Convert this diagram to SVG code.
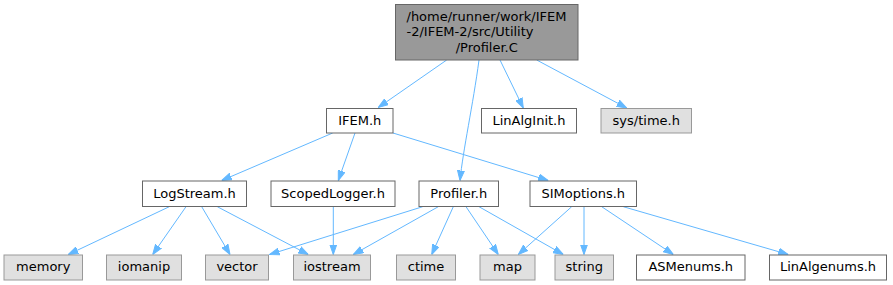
<svg xmlns="http://www.w3.org/2000/svg" width="893" height="285" viewBox="0 0 893 285">
<style>
  .w rect { fill: #ffffff; stroke: #666666; stroke-width: 1; }
  .g rect { fill: #e0e0e0; stroke: #999999; stroke-width: 1; }
  .r rect { fill: #999999; stroke: #666666; stroke-width: 1; }
  text { font-family: "DejaVu Sans", "Liberation Sans", sans-serif; font-size: 13px; fill: #000000; }
  .c { text-anchor: middle; }
  #edges path { fill: none; stroke: #63b8ff; stroke-width: 1; marker-end: url(#arr); }
</style>
<defs>
  <marker id="arr" markerUnits="userSpaceOnUse" markerWidth="10" markerHeight="8" refX="10" refY="4" orient="auto">
    <path d="M0,0.5 L10,4 L0,7.5 z" fill="#63b8ff" stroke="#63b8ff" stroke-width="1"/>
  </marker>
</defs>
<rect width="893" height="285" fill="#ffffff"/>
<g id="edges">
  <path d="M446.7,60 L378.3,107.5"/>
  <path d="M479,60 C473,105 463,150 460,180.5"/>
  <path d="M500,60 L523.3,108"/>
  <path d="M536.7,60 L626.7,108"/>
  <path d="M332.7,133 L221.7,180.5"/>
  <path d="M355,133 L338.3,180.5"/>
  <path d="M393,133 L548.3,180.5"/>
  <path d="M169.3,206.7 L68.3,254.5"/>
  <path d="M186,206.7 L152.7,254.5"/>
  <path d="M201.7,206.7 L230,254.5"/>
  <path d="M217.3,206.7 L308.3,254.5"/>
  <path d="M333.3,206.7 L333.3,254.5"/>
  <path d="M422.7,206.7 L269.5,254.5"/>
  <path d="M438.3,206.7 L353.3,254.5"/>
  <path d="M453.3,206.7 L431.7,254.5"/>
  <path d="M466,206.7 L498.3,254.5"/>
  <path d="M479,206.7 L563.3,254.5"/>
  <path d="M571.7,206.7 L518.3,254.5"/>
  <path d="M584,206.7 L584,254.5"/>
  <path d="M601.7,206.7 L673.3,254.5"/>
  <path d="M623.3,206.7 L788.3,254.5"/>
</g>
<g id="node_root" class="r">
  <rect x="395.5" y="4.5" width="182.5" height="55.5"/>
  <text x="406.5" y="20.5">/home/runner/work/IFEM</text>
  <text x="406.5" y="36">-2/IFEM-2/src/Utility</text>
  <text class="c" x="486.75" y="51.5">/Profiler.C</text>
</g>
<g id="node_ifem" class="w">
  <rect x="326.5" y="108.5" width="66.5" height="24.5"/>
  <text class="c" x="359.75" y="124.5">IFEM.h</text>
</g>
<g id="node_linalginit" class="w">
  <rect x="481.5" y="108.5" width="95" height="24.5"/>
  <text class="c" x="529" y="124.5">LinAlgInit.h</text>
</g>
<g id="node_systime" class="g">
  <rect x="601" y="108.5" width="90.5" height="24.5"/>
  <text class="c" x="646.25" y="124.5">sys/time.h</text>
</g>
<g id="node_logstream" class="w">
  <rect x="142.5" y="181" width="104" height="25.5"/>
  <text class="c" x="194.5" y="197.5">LogStream.h</text>
</g>
<g id="node_scopedlogger" class="w">
  <rect x="271" y="181" width="124" height="25.5"/>
  <text class="c" x="333" y="197.5">ScopedLogger.h</text>
</g>
<g id="node_profiler" class="w">
  <rect x="419" y="181" width="79.5" height="25.5"/>
  <text class="c" x="458.75" y="197.5">Profiler.h</text>
</g>
<g id="node_simoptions" class="w">
  <rect x="530" y="181" width="106.5" height="25.5"/>
  <text class="c" x="583.25" y="197.5">SIMoptions.h</text>
</g>
<g id="node_memory" class="g">
  <rect x="4" y="255" width="78.5" height="25"/>
  <text class="c" x="43.25" y="271">memory</text>
</g>
<g id="node_iomanip" class="g">
  <rect x="106.5" y="255" width="75" height="25"/>
  <text class="c" x="144" y="271">iomanip</text>
</g>
<g id="node_vector" class="g">
  <rect x="205.5" y="255" width="63" height="25"/>
  <text class="c" x="237" y="271">vector</text>
</g>
<g id="node_iostream" class="g">
  <rect x="293.5" y="255" width="77" height="25"/>
  <text class="c" x="332" y="271">iostream</text>
</g>
<g id="node_ctime" class="g">
  <rect x="396.5" y="255" width="59" height="25"/>
  <text class="c" x="426" y="271">ctime</text>
</g>
<g id="node_map" class="g">
  <rect x="480" y="255" width="55" height="25"/>
  <text class="c" x="507.5" y="271">map</text>
</g>
<g id="node_string" class="g">
  <rect x="555" y="255" width="58.5" height="25"/>
  <text class="c" x="584.25" y="271">string</text>
</g>
<g id="node_asmenums" class="w">
  <rect x="636.5" y="255" width="108.5" height="25"/>
  <text class="c" x="690.75" y="271">ASMenums.h</text>
</g>
<g id="node_linalgenums" class="w">
  <rect x="769.5" y="255" width="117" height="25"/>
  <text class="c" x="828" y="271">LinAlgenums.h</text>
</g>
</svg>
